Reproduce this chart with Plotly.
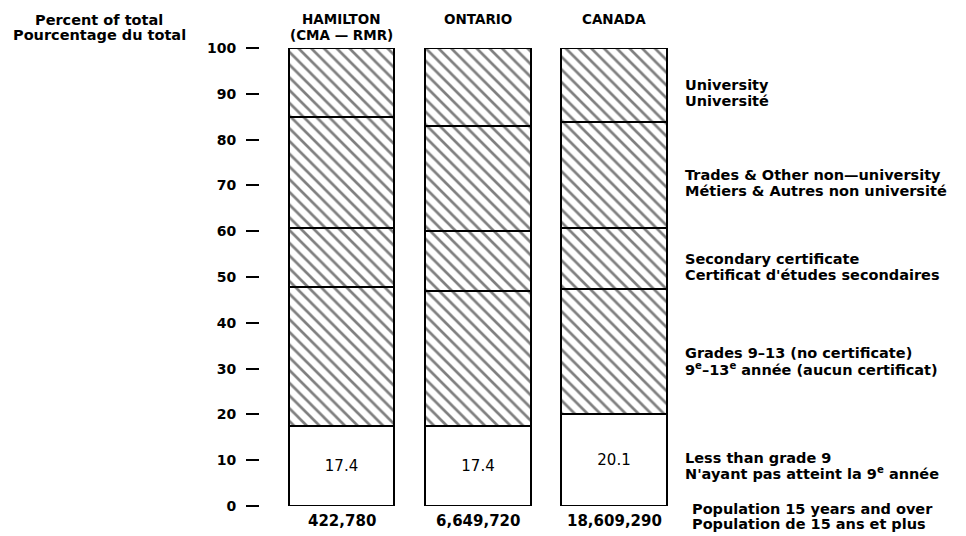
import plotly.graph_objects as go

# Highest level of schooling, population 15 years and over (percent of total)
regions = ["HAMILTON", "ONTARIO", "CANADA"]
populations = ["422,780", "6,649,720", "18,609,290"]
less_than_9 = [17.4, 17.4, 20.1]
grades_9_13 = [30.4, 29.5, 27.2]
secondary = [13.0, 13.1, 13.4]
trades = [24.2, 22.9, 23.2]
university = [15.0, 17.1, 16.1]

labels_en = ["Less than grade 9", "Grades 9\u201313 (no certificate)",
             "Secondary certificate", "Trades & Other non\u2014university", "University"]
labels_fr = ["N'ayant pas atteint la 9<sup>e</sup> ann\u00e9e",
             "9<sup>e</sup>\u201313<sup>e</sup> ann\u00e9e (aucun certificat)",
             "Certificat d'\u00e9tudes secondaires",
             "M\u00e9tiers & Autres non universit\u00e9", "Universit\u00e9"]

W, H = 966, 536
ML, MR, MT, MB = 260, 286, 48, 30
PLOT_H = H - MT - MB
PLOT_W = W - ML - MR

FONT = "DejaVu Sans"
HEAD = dict(family=FONT, size=13.5, color="black", weight="bold")
LABEL = dict(family=FONT, size=14.5, color="black", weight="bold")
NUM = dict(family=FONT, size=15, color="black", weight="bold")
TICK = dict(family=FONT, size=14, color="black", weight="bold")
VALUE = dict(family=FONT, size=15, color="black")


def py(pix):
    """Pixel row -> paper y."""
    return (H - MB - pix) / PLOT_H


def px(pix):
    """Pixel column -> paper x."""
    return (pix - ML) / PLOT_W


xs = list(range(len(regions)))
fig = go.Figure()

hatch = dict(shape="\\", fgcolor="black", bgcolor="white", size=9, solidity=0.3)
outline = dict(color="black", width=2)

fig.add_trace(go.Bar(
    x=xs, y=less_than_9, width=0.775,
    marker=dict(color="white", line=outline),
    text=[f"{v:.1f}" for v in less_than_9], textposition="inside",
    insidetextanchor="middle", textfont=VALUE, textangle=0,
    cliponaxis=False, hoverinfo="skip",
))
for series in (grades_9_13, secondary, trades, university):
    fig.add_trace(go.Bar(
        x=xs, y=series, width=0.775,
        marker=dict(color="white", line=outline, pattern=hatch),
        cliponaxis=False, hoverinfo="skip",
    ))


def note(text, x, y, font, xref="paper", xanchor="center"):
    return dict(text=text, xref=xref, yref="paper", x=x, y=y,
                xanchor=xanchor, yanchor="middle", showarrow=False, font=font)


annotations = [
    # Axis caption, top left
    note("Percent of total", px(99), py(20), LABEL),
    note("Pourcentage du total", px(99), py(35), LABEL),
]
# Column headers
for i, name in enumerate(regions):
    annotations.append(note(name, xs[i], py(19), HEAD, xref="x"))
annotations.append(note("(CMA \u2014 RMR)", xs[0], py(35), HEAD, xref="x"))
# Population counts under the bars
for i, pop in enumerate(populations):
    annotations.append(note(pop, xs[i], py(521), NUM, xref="x"))
# Category labels at right
label_rows = [(85, 101), (175, 191), (259, 275), (353, 369), (458, 473)][::-1]
for en, fr, (r1, r2) in zip(labels_en, labels_fr, label_rows):
    annotations.append(note(en, px(683), py(r1), LABEL, xanchor="left"))
    annotations.append(note(fr, px(683), py(r2), LABEL, xanchor="left"))
annotations.append(note("Population 15 years and over", px(690), py(509), LABEL, xanchor="left"))
annotations.append(note("Population de 15 ans et plus", px(690), py(524), LABEL, xanchor="left"))

centre0 = 341.7
step = 136.2
fig.update_layout(
    width=W, height=H,
    margin=dict(l=ML, r=MR, t=MT, b=MB, pad=0),
    barmode="stack",
    bargap=0,
    showlegend=False,
    plot_bgcolor="white",
    paper_bgcolor="white",
    annotations=annotations,
    xaxis=dict(visible=False,
               range=[-(centre0 - ML) / step, (W - MR - centre0) / step]),
    yaxis=dict(range=[0, 100], tickvals=list(range(0, 101, 10)),
               ticks="outside", ticklen=13, tickwidth=2, tickcolor="black",
               ticklabelstandoff=7, showgrid=False, zeroline=False,
               showline=False, tickfont=TICK),
)

fig.write_html("out.html")
